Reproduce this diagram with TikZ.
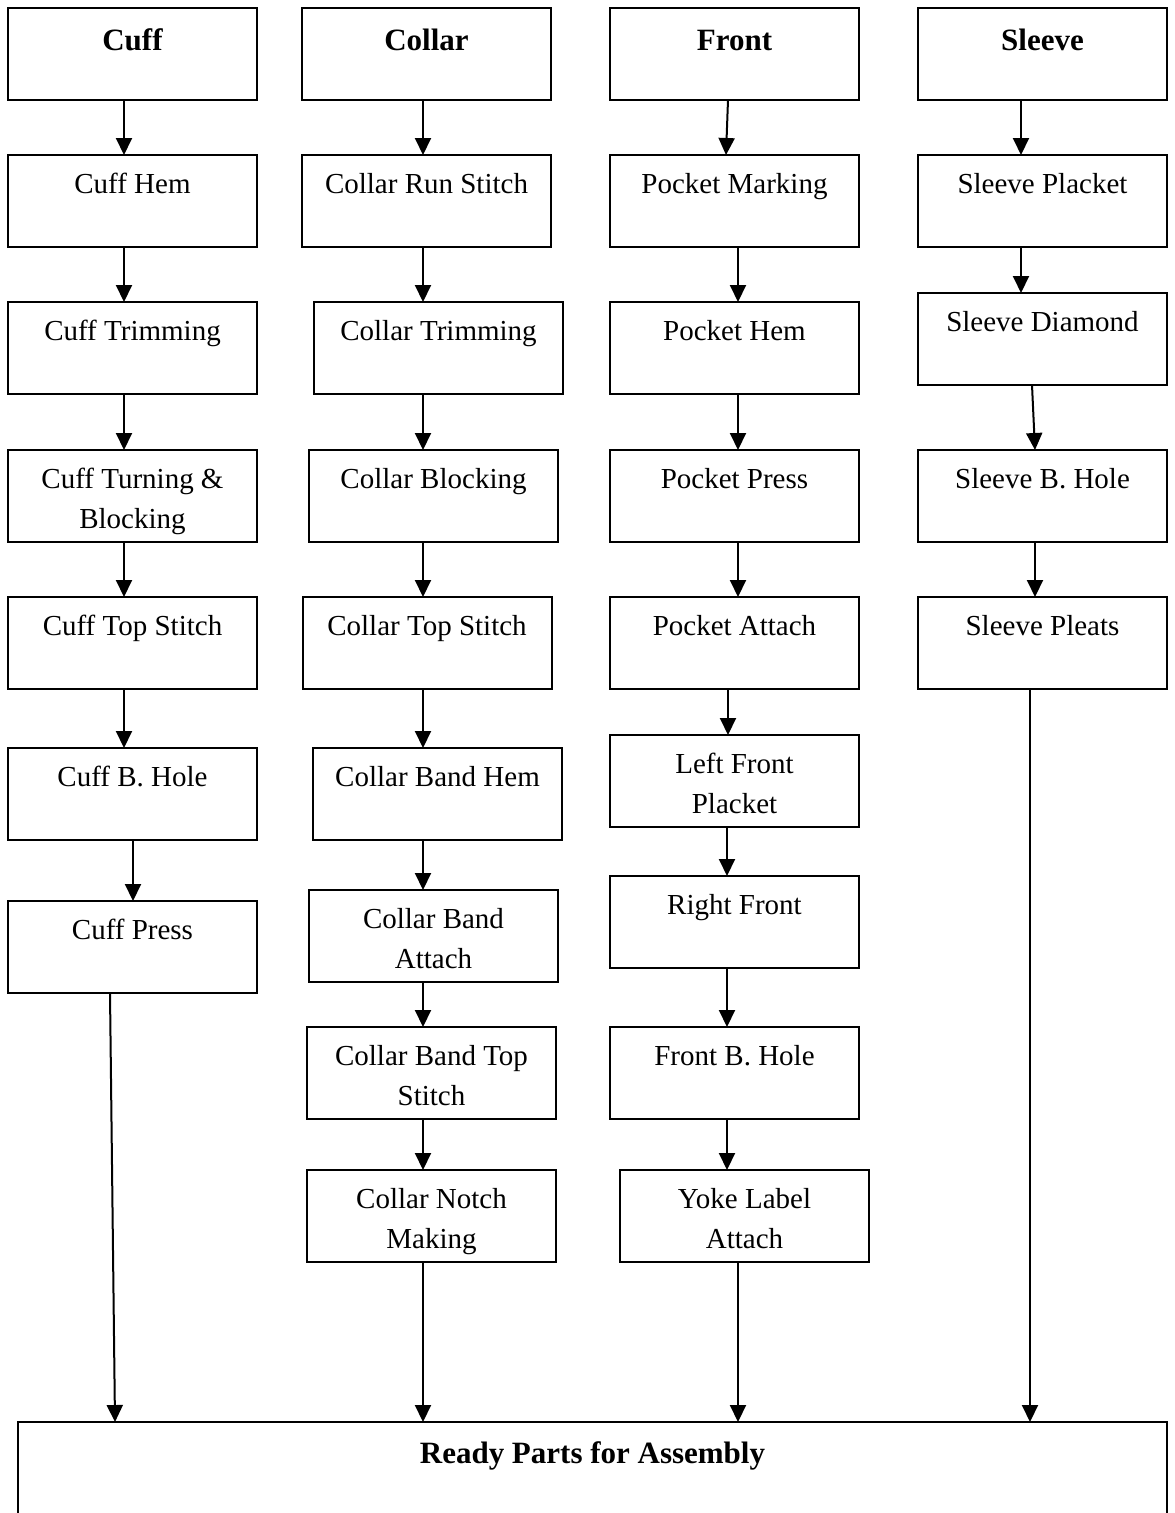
\documentclass[tikz,border=0pt]{standalone}
\usepackage{fontspec}
\setmainfont{Liberation Serif}
\usetikzlibrary{arrows.meta}
\newcommand\bodytxt[1]{\parbox[c][92pt][t]{249pt}{\centering\fontsize{29}{40}\selectfont\vspace*{10.5pt}\strut #1\par}}
\newcommand\headtxt[1]{\parbox[c][92pt][t]{249pt}{\centering\fontsize{31}{40}\selectfont\bfseries\vspace*{14pt}\strut #1\par}}
\newcommand\readytxt[1]{\parbox[c][130pt][t]{1149pt}{\centering\fontsize{31}{40}\selectfont\bfseries\vspace*{13pt}\strut #1\par}}
\tikzset{
  box/.style={draw=black, line width=2pt, inner sep=0pt, outer sep=0pt, anchor=north, rectangle},
  arr/.style={line width=2pt, -{Triangle[width=16pt,length=17pt]}}
}
\begin{document}
\begin{tikzpicture}[x=1pt,y=-1pt]
\useasboundingbox (0,0) rectangle (1175,1513);
% column 1
\node[box] (cuff) at (132.5,8) {\headtxt{Cuff}};
\node[box] (cuffhem) at (132.5,155) {\bodytxt{Cuff Hem}};
\node[box] (cufftrim) at (132.5,302) {\bodytxt{Cuff Trimming}};
\node[box] (cuffturn) at (132.5,450) {\bodytxt{Cuff Turning \&\\Blocking}};
\node[box] (cufftop) at (132.5,597) {\bodytxt{Cuff Top Stitch}};
\node[box] (cuffbh) at (132.5,748) {\bodytxt{Cuff B. Hole}};
\node[box] (cuffpress) at (132.5,901) {\bodytxt{Cuff Press}};
% column 2
\node[box] (collar) at (426.5,8) {\headtxt{Collar}};
\node[box] (crun) at (426.5,155) {\bodytxt{Collar Run Stitch}};
\node[box] (ctrim) at (438.5,302) {\bodytxt{Collar Trimming}};
\node[box] (cblock) at (433.5,450) {\bodytxt{Collar Blocking}};
\node[box] (ctop) at (427,597) {\bodytxt{Collar Top Stitch}};
\node[box] (cbhem) at (437.5,748) {\bodytxt{Collar Band Hem}};
\node[box] (cbatt) at (433.5,890) {\bodytxt{Collar Band\\Attach}};
\node[box] (cbtop) at (431.5,1027) {\bodytxt{Collar Band Top\\Stitch}};
\node[box] (cnotch) at (431.5,1170) {\bodytxt{Collar Notch\\Making}};
% column 3
\node[box] (front) at (734.5,8) {\headtxt{Front}};
\node[box] (pmark) at (734.5,155) {\bodytxt{Pocket Marking}};
\node[box] (phem) at (734.5,302) {\bodytxt{Pocket Hem}};
\node[box] (ppress) at (734.5,450) {\bodytxt{Pocket Press}};
\node[box] (pattach) at (734.5,597) {\bodytxt{Pocket Attach}};
\node[box] (lfront) at (734.5,735) {\bodytxt{Left Front\\Placket}};
\node[box] (rfront) at (734.5,876) {\bodytxt{Right Front}};
\node[box] (fbh) at (734.5,1027) {\bodytxt{Front B. Hole}};
\node[box] (yoke) at (744.5,1170) {\bodytxt{Yoke Label\\Attach}};
% column 4
\node[box] (sleeve) at (1042.5,8) {\headtxt{Sleeve}};
\node[box] (splacket) at (1042.5,155) {\bodytxt{Sleeve Placket}};
\node[box] (sdiamond) at (1042.5,293) {\bodytxt{Sleeve Diamond}};
\node[box] (sbh) at (1042.5,450) {\bodytxt{Sleeve B. Hole}};
\node[box] (spleats) at (1042.5,597) {\bodytxt{Sleeve Pleats}};
% bottom
\node[box] (ready) at (592.5,1422) {\readytxt{Ready Parts for Assembly}};
% x positions of connectors
\coordinate (xa) at (124,0);
\coordinate (xb) at (133,0);
\coordinate (xc) at (110,0);
\coordinate (xd) at (115,0);
\coordinate (xe) at (423,0);
\coordinate (xf) at (728,0);
\coordinate (xg) at (726,0);
\coordinate (xh) at (738,0);
\coordinate (xi) at (727,0);
\coordinate (xj) at (1021,0);
\coordinate (xk) at (1032,0);
\coordinate (xl) at (1035,0);
\coordinate (xm) at (1030,0);
% column 1 arrows
\draw[arr] (cuff.south -| xa) -- (cuffhem.north -| xa);
\draw[arr] (cuffhem.south -| xa) -- (cufftrim.north -| xa);
\draw[arr] (cufftrim.south -| xa) -- (cuffturn.north -| xa);
\draw[arr] (cuffturn.south -| xa) -- (cufftop.north -| xa);
\draw[arr] (cufftop.south -| xa) -- (cuffbh.north -| xa);
\draw[arr] (cuffbh.south -| xb) -- (cuffpress.north -| xb);
\draw[arr] (cuffpress.south -| xc) -- (ready.north -| xd);
% column 2 arrows
\draw[arr] (collar.south -| xe) -- (crun.north -| xe);
\draw[arr] (crun.south -| xe) -- (ctrim.north -| xe);
\draw[arr] (ctrim.south -| xe) -- (cblock.north -| xe);
\draw[arr] (cblock.south -| xe) -- (ctop.north -| xe);
\draw[arr] (ctop.south -| xe) -- (cbhem.north -| xe);
\draw[arr] (cbhem.south -| xe) -- (cbatt.north -| xe);
\draw[arr] (cbatt.south -| xe) -- (cbtop.north -| xe);
\draw[arr] (cbtop.south -| xe) -- (cnotch.north -| xe);
\draw[arr] (cnotch.south -| xe) -- (ready.north -| xe);
% column 3 arrows
\draw[arr] (front.south -| xf) -- (pmark.north -| xg);
\draw[arr] (pmark.south -| xh) -- (phem.north -| xh);
\draw[arr] (phem.south -| xh) -- (ppress.north -| xh);
\draw[arr] (ppress.south -| xh) -- (pattach.north -| xh);
\draw[arr] (pattach.south -| xf) -- (lfront.north -| xf);
\draw[arr] (lfront.south -| xi) -- (rfront.north -| xi);
\draw[arr] (rfront.south -| xi) -- (fbh.north -| xi);
\draw[arr] (fbh.south -| xi) -- (yoke.north -| xi);
\draw[arr] (yoke.south -| xh) -- (ready.north -| xh);
% column 4 arrows
\draw[arr] (sleeve.south -| xj) -- (splacket.north -| xj);
\draw[arr] (splacket.south -| xj) -- (sdiamond.north -| xj);
\draw[arr] (sdiamond.south -| xk) -- (sbh.north -| xl);
\draw[arr] (sbh.south -| xl) -- (spleats.north -| xl);
\draw[arr] (spleats.south -| xm) -- (ready.north -| xm);
\end{tikzpicture}
\end{document}
